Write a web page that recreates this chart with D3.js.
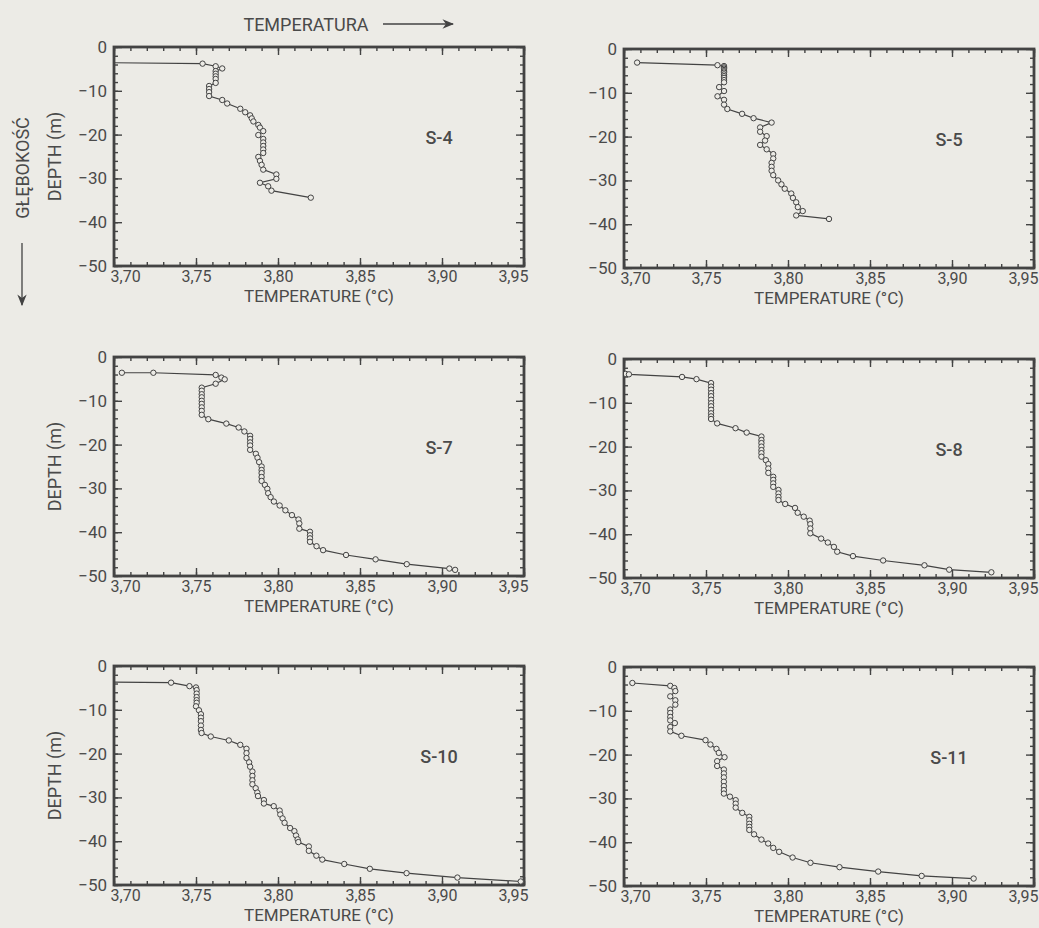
<!DOCTYPE html>
<html>
<head>
<meta charset="utf-8">
<script src="https://cdn.jsdelivr.net/npm/d3@7"></script>
<style>
  html, body { margin: 0; padding: 0; background: #ecebe6; }
  svg { display: block; }
  text { font-family: Roboto, "DejaVu Sans", sans-serif; fill: #4a4a4a; }
</style>
</head>
<body>
<svg id="chart" width="1039" height="928"></svg>
<script>
// ---------------- DATA ----------------
const stations = ["S-4", "S-5", "S-7", "S-8", "S-10", "S-11"];

// [temperature °C, depth m]
const s4 = [[3.62,-3.3],[3.754,-3.8],[3.762,-4.4],[3.766,-4.9],[3.762,-5.5],[3.762,-6.1],[3.762,-6.7],[3.762,-7.3],[3.762,-8.2],[3.758,-8.9],[3.758,-9.6],[3.758,-10.3],[3.758,-11.2],[3.766,-12.1],[3.769,-12.9],[3.777,-14.1],[3.780,-14.9],[3.783,-15.6],[3.784,-16.3],[3.785,-17.0],[3.788,-17.8],[3.789,-18.4],[3.791,-19.2],[3.788,-20.1],[3.791,-21.0],[3.791,-21.8],[3.791,-22.6],[3.791,-23.4],[3.791,-24.2],[3.788,-25.1],[3.789,-26.0],[3.790,-26.9],[3.791,-28.0],[3.799,-29.1],[3.799,-30.1],[3.789,-31.0],[3.794,-31.8],[3.796,-32.8],[3.820,-34.4]];

const s5 = [[3.708,-3.1],[3.757,-3.7],[3.761,-3.9],[3.761,-4.2],[3.761,-4.5],[3.761,-4.8],[3.761,-5.1],[3.761,-5.4],[3.761,-5.8],[3.761,-6.2],[3.761,-6.6],[3.761,-7.1],[3.761,-7.6],[3.758,-8.7],[3.761,-9.6],[3.757,-10.8],[3.761,-11.6],[3.761,-12.7],[3.763,-13.7],[3.772,-14.8],[3.779,-15.8],[3.790,-16.8],[3.783,-17.9],[3.783,-18.9],[3.787,-19.9],[3.786,-20.9],[3.783,-21.9],[3.787,-22.9],[3.791,-24.0],[3.791,-25.0],[3.790,-26.0],[3.790,-26.9],[3.790,-27.8],[3.791,-28.8],[3.794,-30.0],[3.796,-30.9],[3.798,-31.9],[3.802,-33.0],[3.803,-34.0],[3.805,-35.0],[3.806,-36.1],[3.809,-37.0],[3.805,-38.0],[3.825,-38.8]];

const s7 = [[3.7048,-3.6],[3.724,-3.6],[3.762,-4.1],[3.7655,-4.7],[3.7675,-5.1],[3.762,-6.1],[3.7535,-7.0],[3.7535,-7.7],[3.7535,-8.5],[3.7535,-9.2],[3.7535,-10.0],[3.7535,-10.7],[3.7535,-11.5],[3.7535,-12.3],[3.7535,-13.2],[3.7575,-14.2],[3.7685,-15.2],[3.776,-16.1],[3.7795,-17.0],[3.783,-18.0],[3.783,-18.7],[3.783,-19.5],[3.783,-20.2],[3.783,-21.2],[3.7865,-22.1],[3.7875,-23.0],[3.7885,-24.0],[3.790,-25.0],[3.790,-25.8],[3.790,-26.5],[3.790,-27.4],[3.790,-28.3],[3.792,-29.2],[3.7935,-30.1],[3.794,-31.1],[3.7955,-32.0],[3.7975,-33.0],[3.801,-33.9],[3.8045,-35.0],[3.8085,-36.1],[3.8125,-37.1],[3.813,-38.0],[3.813,-39.2],[3.8195,-39.9],[3.8195,-40.7],[3.8195,-41.4],[3.8195,-42.2],[3.8235,-43.2],[3.8275,-44.1],[3.8415,-45.2],[3.8595,-46.2],[3.8785,-47.3],[3.9045,-48.3],[3.908,-48.6]];

const s8 = [[3.701,-3.4],[3.703,-3.5],[3.7354,-4.1],[3.7442,-4.6],[3.7531,-5.5],[3.7531,-6.3],[3.7531,-7.0],[3.7531,-7.8],[3.7531,-8.5],[3.7531,-9.3],[3.7531,-10.1],[3.7531,-10.8],[3.7531,-11.6],[3.7531,-12.4],[3.7531,-13.1],[3.7531,-13.7],[3.7568,-14.7],[3.768,-15.8],[3.7748,-16.8],[3.7838,-17.7],[3.7838,-18.5],[3.7838,-19.2],[3.7838,-20.0],[3.7838,-20.8],[3.7838,-21.5],[3.7838,-22.3],[3.7865,-23.1],[3.788,-24.0],[3.788,-25.0],[3.788,-26.0],[3.791,-26.9],[3.791,-27.6],[3.791,-28.4],[3.791,-29.2],[3.7942,-29.9],[3.7942,-30.7],[3.7942,-31.5],[3.7942,-32.2],[3.7983,-33.1],[3.8043,-34.0],[3.8059,-35.1],[3.8096,-36.0],[3.8132,-36.9],[3.8136,-37.7],[3.8136,-38.7],[3.8136,-39.8],[3.8202,-41.0],[3.8243,-41.9],[3.828,-42.9],[3.830,-44.0],[3.8396,-45.0],[3.858,-46.0],[3.8832,-47.1],[3.8983,-48.1],[3.924,-48.7]];

const s10 = [[3.60,-3.4],[3.7348,-3.8],[3.746,-4.6],[3.750,-4.9],[3.7504,-5.5],[3.7504,-6.3],[3.7504,-7.1],[3.7504,-7.8],[3.7504,-8.4],[3.750,-9.2],[3.7518,-10.1],[3.753,-11.0],[3.753,-11.8],[3.753,-12.6],[3.753,-13.6],[3.753,-14.6],[3.7534,-15.3],[3.759,-16.1],[3.770,-17.0],[3.777,-18.0],[3.7808,-18.9],[3.7808,-19.9],[3.7808,-21.0],[3.7824,-22.0],[3.783,-23.0],[3.7844,-24.1],[3.7844,-25.1],[3.7844,-26.1],[3.7844,-27.0],[3.7864,-27.9],[3.7874,-28.9],[3.7878,-29.7],[3.7914,-30.6],[3.7914,-31.4],[3.7974,-32.0],[3.801,-33.0],[3.8014,-33.9],[3.8028,-34.8],[3.804,-35.8],[3.8074,-37.0],[3.810,-37.7],[3.811,-38.7],[3.812,-39.6],[3.8124,-40.2],[3.8188,-41.2],[3.8188,-42.2],[3.8234,-43.3],[3.827,-44.2],[3.8404,-45.2],[3.856,-46.3],[3.8784,-47.3],[3.9094,-48.3],[3.948,-49.2]];

const s11 = [[3.7051,-3.65],[3.7282,-4.3],[3.7307,-4.8],[3.7313,-5.5],[3.7282,-6.7],[3.7313,-7.6],[3.7313,-8.6],[3.7282,-9.7],[3.7282,-10.5],[3.7282,-11.4],[3.7282,-12.2],[3.731,-12.8],[3.7282,-13.7],[3.7282,-14.7],[3.735,-15.7],[3.7497,-16.7],[3.7527,-17.7],[3.7564,-18.7],[3.7578,-19.6],[3.7613,-20.6],[3.7568,-21.5],[3.7568,-22.6],[3.7609,-23.4],[3.7609,-24.3],[3.7609,-25.2],[3.7609,-26.2],[3.7609,-27.2],[3.7609,-28.1],[3.7609,-28.9],[3.7646,-29.6],[3.7681,-30.4],[3.7681,-31.2],[3.7681,-32.1],[3.7721,-33.3],[3.7764,-34.2],[3.7764,-35.0],[3.7764,-35.8],[3.7764,-36.5],[3.7764,-37.2],[3.7793,-38.2],[3.7838,-39.4],[3.7879,-40.3],[3.791,-41.3],[3.7946,-42.2],[3.8028,-43.5],[3.8137,-44.7],[3.8314,-45.7],[3.855,-46.7],[3.8815,-47.7],[3.9132,-48.3]];

const stationData = [s4, s5, s7, s8, s10, s11];

const xDomain = [3.70, 3.95];
const yDomain = [-50, 0];
const xMajorTicks = [3.70, 3.75, 3.80, 3.85, 3.90, 3.95];
const xTickLabels = ["3,70", "3,75", "3,80", "3,85", "3,90", "3,95"];
const yMajorTicks = [0, -10, -20, -30, -40, -50];
const yTickLabels = ["0", "\u221210", "\u221220", "\u221230", "\u221240", "\u221250"];
const xTitle = "TEMPERATURE (\u00b0C)";
const yTitle = "DEPTH (m)";
const topTitle = "TEMPERATURA";
const sideTitle = "GŁĘBOKOŚĆ";

// ---------------- LAYOUT ----------------
const INK = "#434343";
const BG = "#ecebe6";
const W = 410, H = 219;
const colX = [114, 624];
const rowY = [47, 357, 666];
const colDy = [0, 2];

const svg = d3.select("#chart");
svg.append("rect").attr("width", 1039).attr("height", 928).attr("fill", BG);

const defs = svg.append("defs");
defs.append("clipPath").attr("id", "plotClip")
  .append("rect").attr("x", 0).attr("y", 0).attr("width", W).attr("height", H);
defs.append("marker").attr("id", "arrow")
  .attr("viewBox", "0 0 10 10").attr("refX", 9).attr("refY", 5)
  .attr("markerWidth", 9).attr("markerHeight", 9).attr("orient", "auto")
  .append("path").attr("d", "M0,1 L10,5 L0,9 L3,5 Z").attr("fill", INK);

const x = d3.scaleLinear().domain(xDomain).range([0, W]);
const y = d3.scaleLinear().domain(yDomain).range([H, 0]);

const xMinor = d3.range(0, 26).map(i => +(3.70 + i * 0.01).toFixed(2));
const yMinor = d3.range(0, 26).map(i => -i * 2);

stations.forEach((name, i) => {
  const col = i % 2, row = Math.floor(i / 2);
  const g = svg.append("g")
    .attr("transform", `translate(${colX[col]},${rowY[row] + colDy[col] * (row < 2 ? 1 : 0.5)})`);

  const styleAxis = sel => {
    sel.select(".domain").remove();
    sel.selectAll("line").attr("stroke", INK).attr("stroke-width", 1.4);
  };
  // minor ticks (all four sides, inward)
  g.append("g").attr("transform", `translate(0,${H})`)
    .call(d3.axisBottom(x).tickValues(xMinor).tickSize(-4).tickFormat("")).call(styleAxis);
  g.append("g")
    .call(d3.axisTop(x).tickValues(xMinor).tickSize(-4).tickFormat("")).call(styleAxis);
  g.append("g")
    .call(d3.axisLeft(y).tickValues(yMinor).tickSize(-4).tickFormat("")).call(styleAxis);
  g.append("g").attr("transform", `translate(${W},0)`)
    .call(d3.axisRight(y).tickValues(yMinor).tickSize(-4).tickFormat("")).call(styleAxis);

  // major ticks + labels
  const xb = g.append("g").attr("transform", `translate(0,${H})`)
    .call(d3.axisBottom(x).tickValues(xMajorTicks).tickSize(-8).tickPadding(0)
      .tickFormat((d, k) => xTickLabels[k])).call(styleAxis);
  xb.selectAll("text").attr("font-size", 16).attr("fill", "#4a4a4a")
    .attr("font-family", "Roboto, sans-serif")
    .attr("y", 10).attr("dy", null).attr("dominant-baseline", "central");
  const xt = xb.selectAll("text").nodes();
  d3.select(xt[0]).attr("text-anchor", "start").attr("x", -4);
  d3.select(xt[xt.length - 1]).attr("text-anchor", "end").attr("x", 4);

  g.append("g")
    .call(d3.axisTop(x).tickValues(xMajorTicks).tickSize(-8).tickFormat("")).call(styleAxis);
  const yl = g.append("g")
    .call(d3.axisLeft(y).tickValues(yMajorTicks).tickSize(-8).tickPadding(7)
      .tickFormat((d, k) => yTickLabels[k])).call(styleAxis);
  yl.selectAll("text").attr("font-size", 17).attr("fill", "#4a4a4a")
    .attr("font-family", "Roboto, sans-serif");
  g.append("g").attr("transform", `translate(${W},0)`)
    .call(d3.axisRight(y).tickValues(yMajorTicks).tickSize(-8).tickFormat("")).call(styleAxis);

  // frame
  g.append("rect").attr("x", 0).attr("y", 0).attr("width", W).attr("height", H)
    .attr("fill", "none").attr("stroke", INK).attr("stroke-width", 2.8);

  // profile
  const data = stationData[i];
  const plot = g.append("g").attr("clip-path", "url(#plotClip)");
  plot.append("path").datum(data)
    .attr("fill", "none").attr("stroke", INK).attr("stroke-width", 1.2)
    .attr("d", d3.line().x(d => x(d[0])).y(d => y(d[1])));
  plot.selectAll("circle").data(data).join("circle")
    .attr("cx", d => x(d[0])).attr("cy", d => y(d[1])).attr("r", 2.7)
    .attr("fill", BG).attr("stroke", INK).attr("stroke-width", 1);

  // station label
  g.append("text").attr("x", 325).attr("y", 90)
    .attr("text-anchor", "middle").attr("dominant-baseline", "central")
    .attr("font-size", 18).attr("font-weight", 500).attr("fill", "#3a3a3a")
    .text(name);

  // x title
  g.append("text").attr("x", W / 2).attr("y", H + 30)
    .attr("text-anchor", "middle").attr("dominant-baseline", "central")
    .attr("font-size", 17).text(xTitle);

  // y title (left column only)
  if (col === 0) {
    g.append("text")
      .attr("transform", `translate(-60,${H / 2}) rotate(-90)`)
      .attr("text-anchor", "middle").attr("dominant-baseline", "central")
      .attr("font-size", 18).text(yTitle);
  }
});

// global annotations
svg.append("text").attr("x", 306).attr("y", 24)
  .attr("text-anchor", "middle").attr("dominant-baseline", "central")
  .attr("font-size", 18).text(topTitle);
svg.append("line").attr("x1", 383).attr("x2", 453).attr("y1", 24).attr("y2", 24)
  .attr("stroke", INK).attr("stroke-width", 1.3).attr("marker-end", "url(#arrow)");

svg.append("text")
  .attr("transform", "translate(22,168) rotate(-90)")
  .attr("text-anchor", "middle").attr("dominant-baseline", "central")
  .attr("font-size", 18).text(sideTitle);
svg.append("line").attr("x1", 22).attr("x2", 22).attr("y1", 243).attr("y2", 305)
  .attr("stroke", INK).attr("stroke-width", 1.3).attr("marker-end", "url(#arrow)");
</script>
</body>
</html>
